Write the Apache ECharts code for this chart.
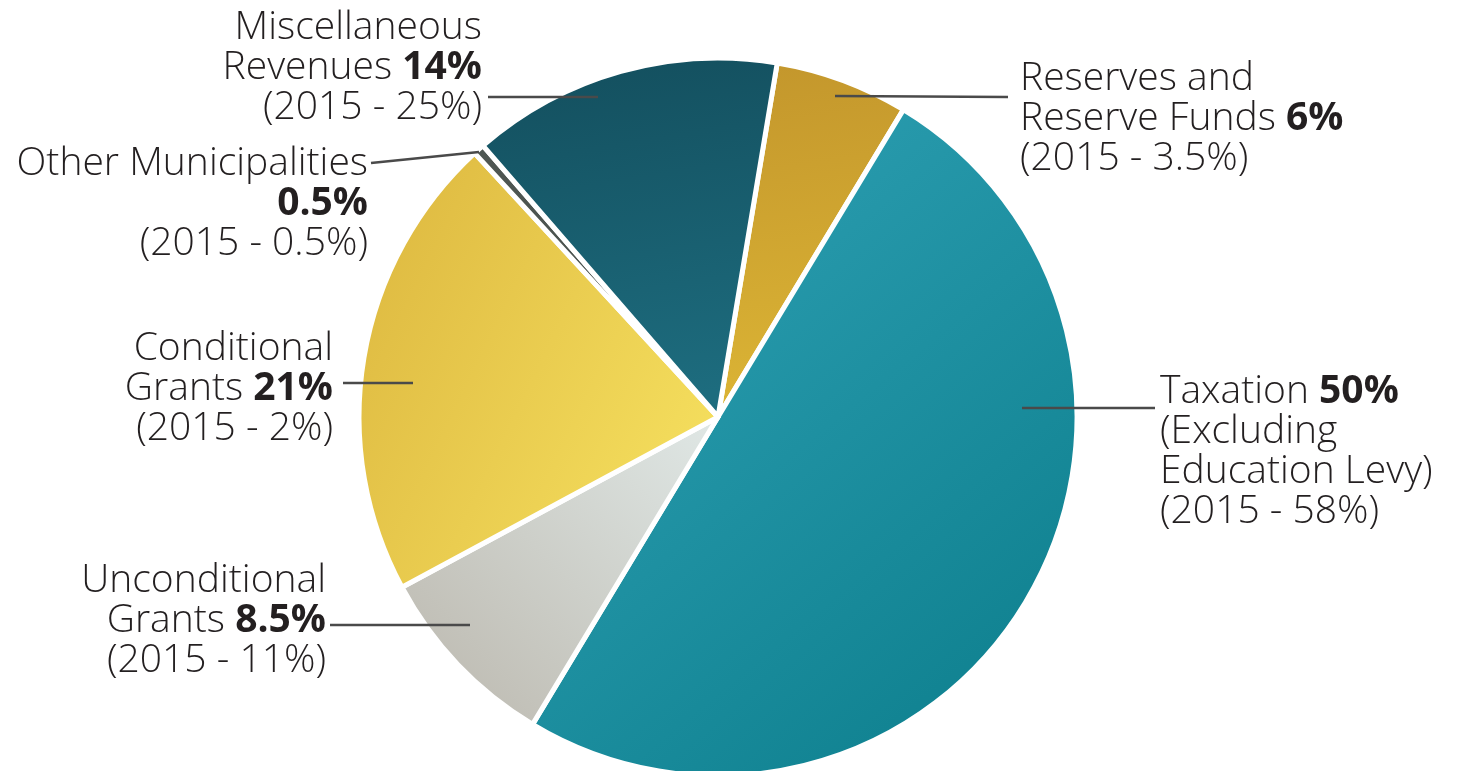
<!DOCTYPE html>
<html>
<head>
<meta charset="utf-8">
<style>
html,body{margin:0;padding:0;background:#fff;}
#c{width:1466px;height:771px;}
</style>
<script src="https://cdn.jsdelivr.net/npm/echarts@6/dist/echarts.min.js"></script>
</head>
<body>
<div id="c"></div>
<script>
// ---- data ----
var categories = ['Reserves and Reserve Funds', 'Taxation', 'Unconditional Grants', 'Conditional Grants', 'Other Municipalities', 'Miscellaneous Revenues'];
var values2016 = [6, 50, 8.5, 21, 0.5, 14];
var labels2016 = ['6%', '50%', '8.5%', '21%', '0.5%', '14%'];
var labels2015 = ['3.5%', '58%', '11%', '2%', '0.5%', '25%'];

// ---- styling / layout (not data) ----
var gradients = [
  ['#c3962c', '#dcb535', 0, 0, 0.3, 1],
  ['#31a3b7', '#0b7d8b', 0, 0, 1, 1],
  ['#e0e8e6', '#bab6ac', 1, 0, 0, 1],
  ['#dfbb42', '#f5df5e', 0, 0.3, 1, 0.7],
  ['#4f5753', '#454d4a', 0, 0, 1, 1],
  ['#134e5d', '#1d6c7e', 0, 0, 0.2, 1]
];
// label anchor (x, top y, align) and leader line points
var labelPos = [
  {x: 1020, y: 59, align: 'left', line: [[835, 96], [1008, 97]]},
  {x: 1160, y: 372, align: 'left', line: [[1022, 408], [1155, 408]]},
  {x: 326, y: 561, align: 'right', line: [[470, 625], [330, 625]]},
  {x: 333, y: 329, align: 'right', line: [[413, 383], [343, 383]]},
  {x: 368, y: 144, align: 'right', line: [[479, 152], [371, 163]]},
  {x: 482, y: 8, align: 'right', line: [[598, 97], [488, 97]]}
];
var textLines = [
  function (p, c) { return ['Reserves and', ['Reserve Funds ', p], ['(2015 - ' + c + ')']]; },
  function (p, c) { return [['Taxation ', p], ['(Excluding'], ['Education Levy)'], ['(2015 - ' + c + ')']]; },
  function (p, c) { return ['Unconditional', ['Grants ', p], ['(2015 - ' + c + ')']]; },
  function (p, c) { return ['Conditional', ['Grants ', p], ['(2015 - ' + c + ')']]; },
  function (p, c) { return ['Other Municipalities', ['', p], ['(2015 - ' + c + ')']]; },
  function (p, c) { return ['Miscellaneous', ['Revenues ', p], ['(2015 - ' + c + ')']]; }
];

function buildLabel(i) {
  var side = labelPos[i].align === 'right' ? 'R' : 'L';
  var lines = textLines[i](labels2016[i], labels2015[i]);
  return lines.map(function (ln) {
    if (typeof ln === 'string') ln = [ln];
    var s = '';
    if (ln[0]) s += '{n' + side + '|' + ln[0] + '}';
    if (ln[1]) s += '{b' + side + '|' + ln[1] + '}';
    return s;
  }).join('\n');
}

var baseFont = {fontFamily: 'Open Sans', fontSize: 39, lineHeight: 40, color: '#231f20'};
function rs(extra) { return Object.assign({}, baseFont, extra); }

var pieData = categories.map(function (name, i) {
  var g = gradients[i];
  return {
    name: name,
    value: values2016[i],
    itemStyle: {
      color: new echarts.graphic.LinearGradient(g[2], g[3], g[4], g[5], [
        {offset: 0, color: g[0]}, {offset: 1, color: g[1]}
      ])
    }
  };
});
var labelData = categories.map(function (name, i) {
  return {name: name, value: values2016[i]};
});

var common = {
  type: 'pie',
  center: [718, 417],
  radius: [0, 359],
  startAngle: 80.5,
  clockwise: true,
  avoidLabelOverlap: false,
  emphasis: {disabled: true},
  silent: true
};

var chart = echarts.init(document.getElementById('c'));
chart.setOption({
  backgroundColor: '#ffffff',
  animation: false,
  series: [
    Object.assign({}, common, {
      z: 2,
      itemStyle: {borderColor: '#ffffff', borderWidth: 5},
      data: pieData,
      label: {show: false},
      labelLine: {show: false}
    }),
    Object.assign({}, common, {
      z: 5,
      itemStyle: {color: 'rgba(0,0,0,0)', borderWidth: 0},
      data: labelData,
      label: {
        show: true,
        position: 'outside',
        formatter: function (p) { return buildLabel(p.dataIndex); },
        rich: {
          nR: rs({fontWeight: 300, align: 'right'}),
          bR: rs({fontWeight: 'bold', align: 'right'}),
          nL: rs({fontWeight: 300, align: 'left'}),
          bL: rs({fontWeight: 'bold', align: 'left'})
        }
      },
      labelLine: {
        show: true,
        showAbove: true,
        length: 10,
        length2: 10,
        smooth: false,
        lineStyle: {color: '#4a4a4a', width: 2.5}
      },
      labelLayout: function (params) {
        var lp = labelPos[params.dataIndex];
        return {
          x: lp.x,
          y: lp.y,
          align: lp.align,
          verticalAlign: 'top',
          labelLinePoints: [lp.line[0], lp.line[1], lp.line[1]]
        };
      }
    })
  ]
});
</script>
</body>
</html>
